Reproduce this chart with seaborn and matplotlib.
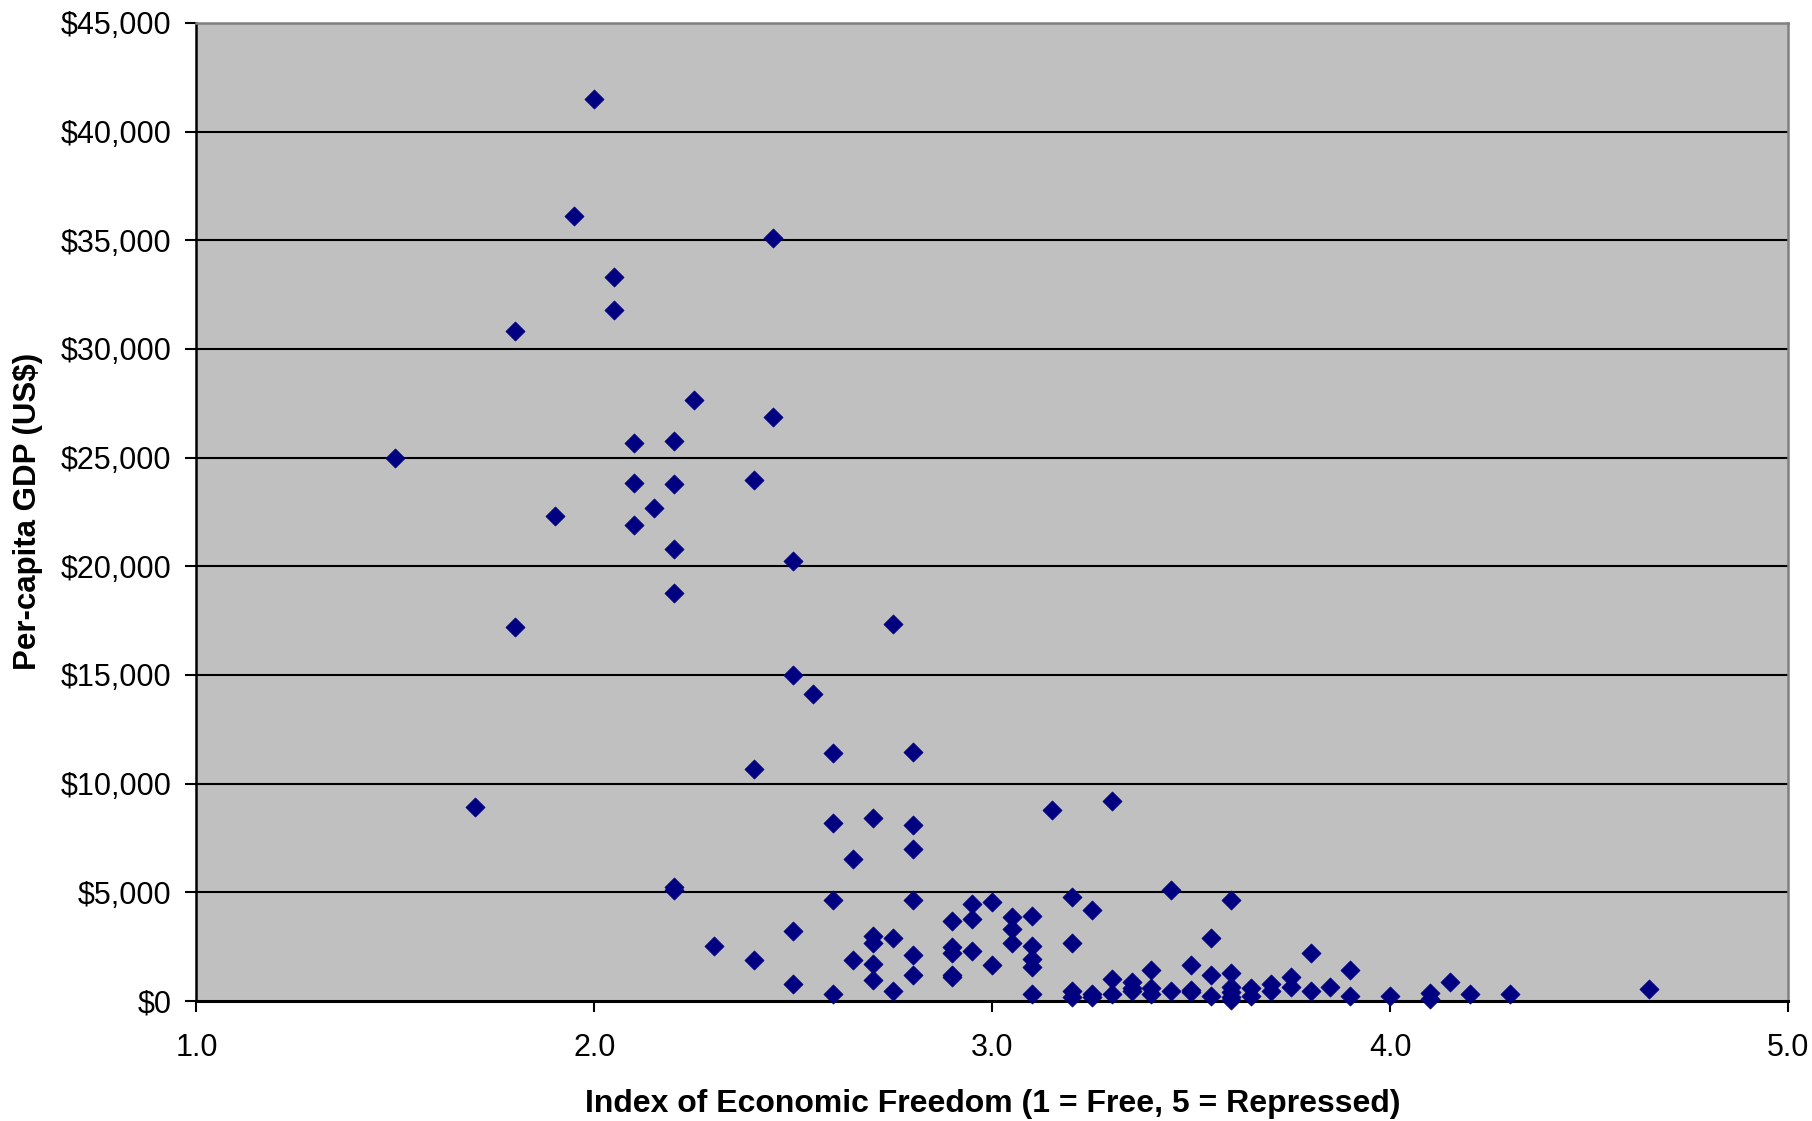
import matplotlib
matplotlib.use("Agg")
import matplotlib.pyplot as plt
import matplotlib.ticker as mticker
import seaborn as sns
import pandas as pd

freedom_index = [
    1.5, 1.7, 1.8, 1.8, 1.9, 1.95, 2.0, 2.05, 2.05, 2.1, 2.1, 2.1, 2.15,
    2.2, 2.2, 2.2, 2.2, 2.2, 2.2, 2.25, 2.3, 2.4, 2.4, 2.4, 2.45, 2.45,
    2.5, 2.5, 2.5, 2.5, 2.55, 2.6, 2.6, 2.6, 2.6, 2.65, 2.65,
    2.7, 2.7, 2.7, 2.7, 2.7, 2.75, 2.75, 2.75,
    2.8, 2.8, 2.8, 2.8, 2.8, 2.8, 2.9, 2.9, 2.9, 2.9, 2.9,
    2.95, 2.95, 2.95, 3.0, 3.0, 3.05, 3.05, 3.05,
    3.1, 3.1, 3.1, 3.1, 3.1, 3.15, 3.2, 3.2, 3.2, 3.2,
    3.25, 3.25, 3.25, 3.3, 3.3, 3.3, 3.35, 3.35, 3.35,
    3.4, 3.4, 3.4, 3.45, 3.45, 3.5, 3.5, 3.5, 3.55, 3.55, 3.55,
    3.6, 3.6, 3.6, 3.6, 3.6, 3.6, 3.65, 3.65, 3.7, 3.7, 3.75, 3.75,
    3.8, 3.8, 3.85, 3.9, 3.9, 4.0, 4.1, 4.1, 4.15, 4.2, 4.3, 4.65,
]
gdp_per_capita = [
    25000, 8900, 30800, 17200, 22300, 36100, 41500, 33300, 31800, 25650, 23850, 21900, 22680,
    25750, 23760, 20770, 18760, 5250, 5100, 27650, 2540, 23950, 10650, 1880, 35100, 26860,
    20230, 15000, 3200, 770, 14100, 11400, 8200, 4650, 310, 6520, 1880,
    8420, 3000, 2650, 1690, 970, 17350, 2880, 430,
    11460, 8080, 6970, 4650, 2110, 1200, 3660, 2460, 2180, 1200, 1080,
    4460, 3750, 2310, 4540, 1650, 3880, 3310, 2650,
    3890, 2540, 1920, 1540, 310, 8770, 4770, 2650, 430, 180,
    4200, 310, 180, 9200, 1000, 310, 850, 600, 430,
    1430, 580, 310, 5110, 460, 1660, 480, 400, 2880, 1200, 200,
    4650, 1260, 650, 400, 180, 60, 580, 200, 770, 430, 1110, 620,
    2200, 430, 650, 1430, 200, 200, 350, 80, 880, 310, 310, 540,
]

x_ticks = [1.0, 2.0, 3.0, 4.0, 5.0]
y_ticks = [0, 5000, 10000, 15000, 20000, 25000, 30000, 35000, 40000, 45000]
x_label = "Index of Economic Freedom (1 = Free, 5 = Repressed)"
y_label = "Per-capita GDP (US$)"

df = pd.DataFrame({"freedom": freedom_index, "gdp": gdp_per_capita})

sns.set_theme(style="white")
plt.rcParams["font.family"] = ["Liberation Sans", "DejaVu Sans"]

fig = plt.figure(figsize=(18.12, 11.21), dpi=100)
ax = fig.add_axes([0.1084, 0.1072, 0.8784, 0.8724])
ax.set_facecolor("#C0C0C0")

for yv in y_ticks[1:]:
    ax.axhline(yv, color="black", linewidth=1.5, zorder=1)

sns.scatterplot(data=df, x="freedom", y="gdp", marker="D", color="#000080",
                edgecolor="#000080", linewidth=0.5, s=95, ax=ax, zorder=3,
                clip_on=False)

ax.set_xlim(1.0, 5.0)
ax.set_ylim(0, 45000)
ax.set_xticks(x_ticks)
ax.set_yticks(y_ticks)
ax.xaxis.set_major_formatter(mticker.FormatStrFormatter("%.1f"))
ax.yaxis.set_major_formatter(mticker.FuncFormatter(lambda v, p: f"${v:,.0f}"))
ax.tick_params(axis="both", which="major", direction="out", length=8, width=1.5,
               color="black", labelsize=22, labelcolor="black",
               bottom=True, left=True)
ax.tick_params(axis="y", pad=10)
ax.tick_params(axis="x", pad=15)

ax.spines["left"].set_color("black")
ax.spines["left"].set_linewidth(1.8)
ax.spines["bottom"].set_color("black")
ax.spines["bottom"].set_linewidth(2.2)
ax.spines["top"].set_color("#808080")
ax.spines["top"].set_linewidth(1.8)
ax.spines["right"].set_color("#808080")
ax.spines["right"].set_linewidth(1.8)
for s in ax.spines.values():
    s.set_visible(True)

ax.set_xlabel(x_label, fontsize=23, fontweight="bold", color="black")
ax.set_ylabel(y_label, fontsize=22.5, fontweight="bold", color="black")
ax.xaxis.set_label_coords(0.5, -0.09)
ax.yaxis.set_label_coords(-0.0965, 0.5)

fig.savefig("out.png", dpi=100)
